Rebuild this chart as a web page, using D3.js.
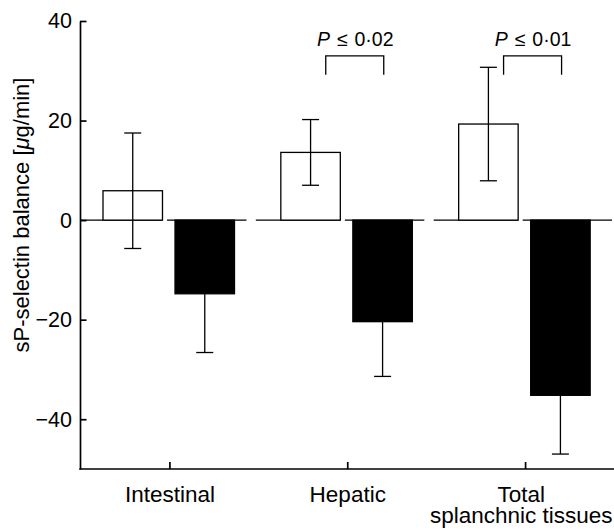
<!DOCTYPE html>
<html><head><meta charset="utf-8">
<script src="https://cdn.jsdelivr.net/npm/d3@7"></script>
<style>
body{margin:0;background:#fff;}
svg{display:block;font-family:"Liberation Sans",Arial,sans-serif;}
</style></head>
<body>
<svg id="chart" width="614" height="531"></svg>
<script>
const categories = ["Intestinal", "Hepatic", "Total splanchnic tissues"];
const categoryLines = [["Intestinal"], ["Hepatic"], ["Total", "splanchnic tissues"]];
const openMeans = [5.9, 13.6, 19.3];
const openErr = [11.6, 6.6, 11.4];
const filledMeans = [-14.8, -20.4, -35.2];
const filledErr = [11.8, 11.0, 11.8];
const yTicks = [-40, -20, 0, 20, 40];
const sigGroups = ["Hepatic", "Total splanchnic tissues"];
const sigLabels = ["0·02", "0·01"];
const sigLevel = 33;

const W = 614, H = 531;
const svg = d3.select("#chart");
const y = d3.scaleLinear().domain([-50, 40]).range([469, 21]);
const x = d3.scaleBand().domain(categories).range([81, 614.5]);
const x1 = d3.scaleBand().domain(["open", "filled"]).range([22, 153.5]).paddingInner(0.174).paddingOuter(0);
const bw = x1.bandwidth();

// axes
const yAxis = d3.axisLeft(y).tickValues(yTicks).tickSizeInner(-6.5).tickSizeOuter(0).tickPadding(8);
const gy = svg.append("g").attr("transform", "translate(80,0)").call(yAxis);
gy.select(".domain").attr("stroke-width", 1.7);
gy.selectAll(".tick line").attr("stroke-width", 1.7);
gy.selectAll(".tick text").attr("font-size", 21.5).attr("font-family", "Liberation Sans, Arial, sans-serif").attr("fill", "#000");

const xAxis = d3.axisBottom(x).tickSizeInner(-7).tickSizeOuter(0).tickFormat("");
const gx = svg.append("g").attr("transform", "translate(0,469)").call(xAxis);
gx.select(".domain").attr("stroke-width", 1.7).attr("d", "M79.2,0H614");
gx.selectAll(".tick line").attr("stroke-width", 1.7);

// category labels
const labels = svg.append("g").selectAll("text").data(categories).join("text")
  .attr("text-anchor", "middle").attr("font-size", 22.5).attr("fill", "#000")
  .attr("transform", d => `translate(${x(d) + x.bandwidth() / 2},502)`);
labels.each(function(d, i) {
  const t = d3.select(this);
  categoryLines[i].forEach((ln, j) => t.append("tspan").attr("x", 0).attr("y", j * 21).text(ln));
  const bb = this.getBBox();
  const cx = x(d) + x.bandwidth() / 2;
  const over = cx + bb.x + bb.width - (W - 1.5);
  if (over > 0) t.attr("transform", `translate(${cx - over},502)`);
});

// y title
const yt = svg.append("text").attr("transform", "translate(28.5,215) rotate(-90)")
  .attr("text-anchor", "middle").attr("font-size", 22).attr("fill", "#000");
yt.append("tspan").text("sP-selectin balance [");
yt.append("tspan").attr("font-style", "italic").text("μ");
yt.append("tspan").text("g/min]");

// data table
const groups = categories.map((c, i) => ({c, i, om: openMeans[i], oe: openErr[i], fm: filledMeans[i], fe: filledErr[i]}));
const g = svg.append("g");
const ln = (x1_, y1_, x2_, y2_, sw) => g.append("line").attr("x1", x1_).attr("y1", y1_).attr("x2", x2_).attr("y2", y2_)
  .attr("stroke", "#000").attr("stroke-width", sw || 1.3);

groups.forEach(d => {
  const ox = x(d.c) + x1("open"), fx = x(d.c) + x1("filled");
  ln(Math.max(80, ox - 25), y(0), ox + bw, y(0));
  const fEnd = d.i === categories.length - 1 ? W - 2 : fx + bw + 12;
  ln(fx - 8, y(0), fEnd, y(0));
});

g.selectAll("rect.open").data(groups).join("rect").attr("class", "open")
  .attr("x", d => x(d.c) + x1("open")).attr("width", bw)
  .attr("y", d => y(Math.max(0, d.om))).attr("height", d => Math.abs(y(d.om) - y(0)))
  .attr("fill", "#fff").attr("stroke", "#000").attr("stroke-width", 1.3);
g.selectAll("rect.filled").data(groups).join("rect").attr("class", "filled")
  .attr("x", d => x(d.c) + x1("filled")).attr("width", bw)
  .attr("y", d => y(Math.max(0, d.fm))).attr("height", d => Math.abs(y(d.fm) - y(0)))
  .attr("fill", "#000").attr("stroke", "#000").attr("stroke-width", 1.3);

const cap = 8.5;
groups.forEach(d => {
  const ocx = x(d.c) + x1("open") + bw / 2;
  ln(ocx, y(d.om + d.oe), ocx, y(d.om - d.oe));
  ln(ocx - cap, y(d.om + d.oe), ocx + cap, y(d.om + d.oe));
  ln(ocx - cap, y(d.om - d.oe), ocx + cap, y(d.om - d.oe));
  const fcx = x(d.c) + x1("filled") + bw / 2;
  ln(fcx, y(d.fm), fcx, y(d.fm - d.fe));
  ln(fcx - cap, y(d.fm - d.fe), fcx + cap, y(d.fm - d.fe));
});

// significance brackets
sigGroups.forEach((c, i) => {
  const cx = x(c) + x.bandwidth() / 2;
  const l = cx - 22, r = cx + 36, top = y(sigLevel);
  g.append("path").attr("d", `M${l},${top + 19}V${top}H${r}V${top + 19}`)
    .attr("fill", "none").attr("stroke", "#000").attr("stroke-width", 1.3);
  const t = g.append("text").attr("x", (l + r) / 2 + 0.5).attr("y", top - 10)
    .attr("text-anchor", "middle").attr("font-size", 19.5).attr("word-spacing", 1.5).attr("fill", "#000");
  t.append("tspan").attr("font-style", "italic").text("P");
  t.append("tspan").text(" ≤ " + sigLabels[i]);
});
</script>
</body></html>
